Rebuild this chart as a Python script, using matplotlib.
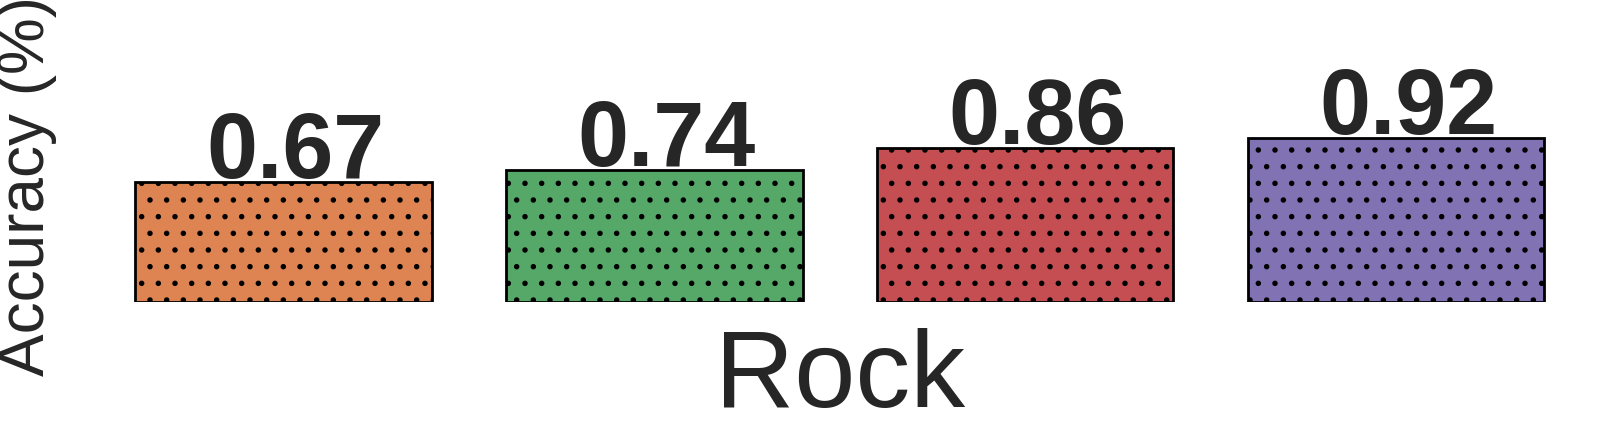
import matplotlib
matplotlib.use("Agg")
import matplotlib.pyplot as plt
import seaborn as sns

# accuracy per model on the Rock set
models = ["M1", "M2", "M3", "M4"]
accuracy = [0.67, 0.74, 0.86, 0.92]
colours = ["#DD8452", "#55A868", "#C44E52", "#8172B3"]
group = "Rock"

sns.set_style("white")
plt.rcParams["font.family"] = ["Liberation Sans", "DejaVu Sans"]
plt.rcParams["hatch.linewidth"] = 1.5

fig = plt.figure(figsize=(16.14, 4.3101), dpi=100)
ax = fig.add_axes([0.0607, 0.2995, 0.919, 0.5385])

x = range(len(models))
bars = ax.bar(x, accuracy, width=0.8, color=colours, edgecolor="black",
              linewidth=2, hatch=".")

for i in range(len(models)):
    ax.annotate(f"{accuracy[i]:.2f}", (i, accuracy[i]), xytext=(9, 3),
                textcoords="offset points", ha="center", va="baseline",
                fontsize=66, fontweight="bold", color="#262626")

ax.set_xlim(-0.5, 3.5)
ax.set_ylim(0, 1.30)
ax.set_xticks([])
ax.set_yticks([])
for s in ax.spines.values():
    s.set_visible(False)

ax.set_xlabel(group, fontsize=79, color="#262626")
ax.xaxis.set_label_coords(0.5, -0.113)
ax.set_ylabel("Accuracy (%)", fontsize=46, color="#262626")
ax.yaxis.set_label_coords(-0.0276, 0.5)

fig.savefig("out.png", dpi=100)
